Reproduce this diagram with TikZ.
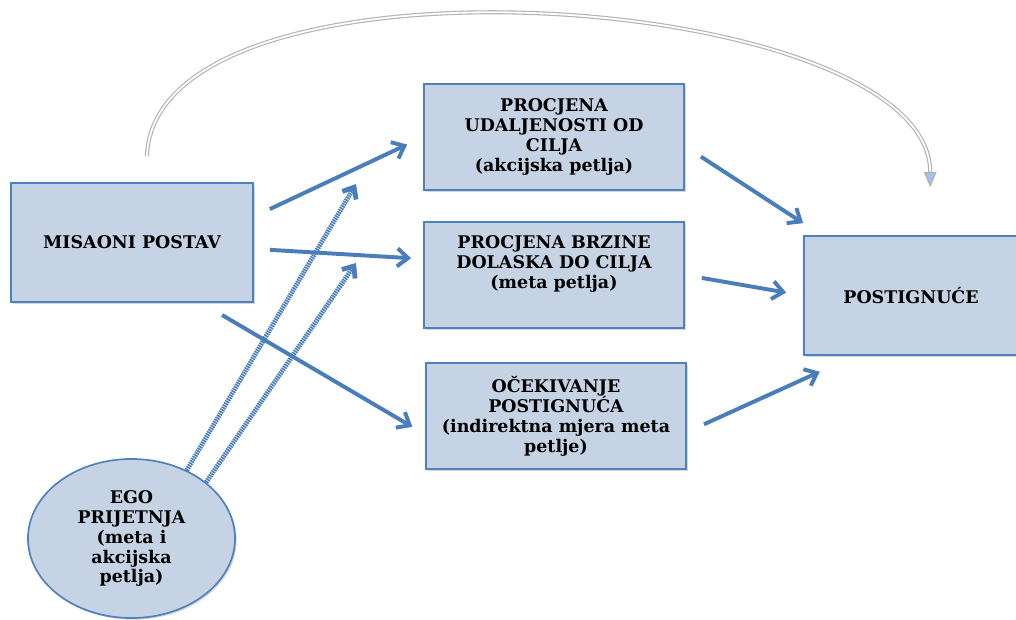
\documentclass[tikz,border=0pt]{standalone}
\usepackage{fontspec}
\setmainfont{DejaVu Serif}
\usetikzlibrary{arrows.meta, positioning, shapes.geometric, shadows}
\definecolor{boxfill}{RGB}{198,211,228}
\definecolor{boxline}{RGB}{79,129,189}
\definecolor{arrowblue}{RGB}{74,126,187}
\definecolor{tipblue}{RGB}{160,196,232}

\begin{document}
\begin{tikzpicture}[x=0.025cm, y=-0.025cm,
    font=\bfseries\fontsize{12.4}{14.2}\selectfont,
    box/.style={draw=boxline, line width=1.2pt, fill=boxfill, align=center, inner sep=2pt,
        drop shadow={shadow xshift=1.2pt, shadow yshift=-1.2pt, opacity=0.3}},
    arr/.style={draw=arrowblue, line width=2.8pt, -{Straight Barb[length=0.27cm, width=0.45cm]}},
    hatch/.style={draw=arrowblue, line width=3.4pt, dash pattern=on 1.1pt off 0.6pt,
        -{Straight Barb[length=0.24cm, width=0.4cm]}},
    bigarc/.style={draw=gray!60, line width=0.8pt, double=white, double distance=1.3pt,
        -{Triangle[length=0.38cm, width=0.32cm, fill=tipblue]}}]

    % Frame
    \fill[white] (0,0) rectangle (1016,619);
    \useasboundingbox (0,0) rectangle (1016,619);

    % Boxes
    \node[box, minimum width=6.05cm, minimum height=2.975cm] (misaoni) at (132,242.5) {MISAONI POSTAV};
    \node[box, minimum width=6.5cm, minimum height=2.65cm] (udaljenost) at (554,137)
        {PROCJENA\\UDALJENOSTI OD\\CILJA\\(akcijska petlja)};
    \node[box, minimum width=6.5cm, minimum height=2.65cm] (brzina) at (554,275)
        {PROCJENA BRZINE\\DOLASKA DO CILJA\\(meta petlja)\\\strut};
    \node[box, minimum width=6.5cm, minimum height=2.65cm] (ocekivanje) at (556,416)
        {OČEKIVANJE\\POSTIGNUĆA\\(indirektna mjera meta\\petlje)};
    \node[box, minimum width=5.35cm, minimum height=2.975cm] (postig) at (911,295.5) {POSTIGNUĆE};

    % Ellipse
    \node[box, ellipse, inner sep=0pt, minimum width=5.175cm, minimum height=3.975cm] (ego) at (131.5,538.5)
        {EGO\\PRIJETNJA\\(meta i\\akcijska\\petlja)};

    % Hatched arrows
    \coordinate (t1) at (356,184);
    \coordinate (t2) at (356,263);
    \draw[hatch] (ego.51) -- (t1);
    \draw[hatch] (ego.37) -- (t2);

    % Arrows
    \draw[arr, shorten <=0.44cm, shorten >=0.44cm] (misaoni.12) -- (udaljenost.west);
    \draw[arr, shorten <=0.4cm, shorten >=0.3cm] (misaoni.-3) -- (brzina.173);
    \draw[arr, shorten <=0.6cm, shorten >=0.37cm] (misaoni.-41.5) -- (ocekivanje.-172.3);
    \draw[arr, shorten <=0.48cm] (udaljenost.-4) -- ([yshift=0.3cm]postig.north west);
    \draw[arr, shorten <=0.43cm, shorten >=0.43cm] (brzina.east) -- (postig.west);
    \draw[arr, shorten <=0.47cm, shorten >=0.96cm] (ocekivanje.-7) -- (postig.227);

    % Big arc
    \draw[bigarc, shorten <=0.65cm, shorten >=1.2cm] ([xshift=0.35cm]misaoni.north)
        to[out=88, in=90, looseness=0.8] ([xshift=0.48cm]postig.north);

\end{tikzpicture}
\end{document}
